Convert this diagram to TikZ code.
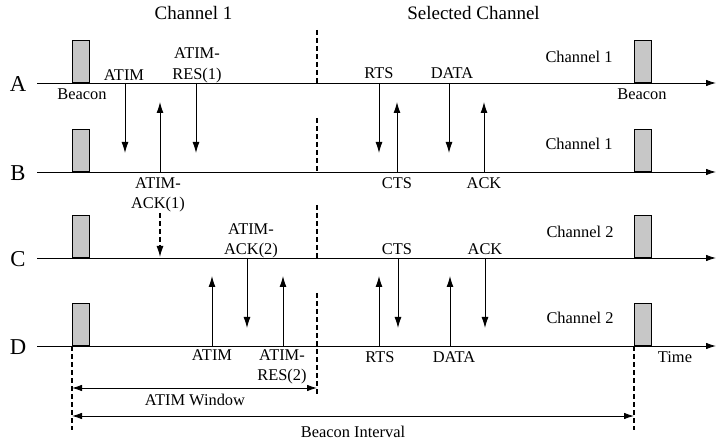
\documentclass[tikz,border=0pt]{standalone}
\usepackage{fontspec}
\setmainfont{Liberation Serif}
\usetikzlibrary{arrows.meta}
\begin{document}
\begin{tikzpicture}[x=1bp,y=-1bp,
  axis/.style={line width=0.9bp,-{Latex[length=10bp,width=6.5bp]}},
  msg/.style={line width=0.9bp,-{Latex[length=11bp,width=7bp]}},
  dmsg/.style={line width=1.2bp,dash pattern=on 5bp off 3bp,-{Latex[length=11bp,width=7bp]}},
  vdash/.style={line width=1.3bp,dash pattern=on 5bp off 3bp},
  dim/.style={line width=0.9bp,{Latex[length=10bp,width=6.5bp]}-{Latex[length=10bp,width=6.5bp]}},
  beacon/.style={draw,line width=0.9bp,fill=black!22,minimum width=17bp,minimum height=42bp,inner sep=0pt,anchor=south west},
  lbl/.style={font=\fontsize{16.4bp}{20bp}\selectfont,inner sep=0pt,anchor=base},
  ttl/.style={font=\fontsize{19bp}{23bp}\selectfont,inner sep=0pt,anchor=base},
  big/.style={font=\fontsize{22.7bp}{26bp}\selectfont,inner sep=0pt}
]
\useasboundingbox (0,0) rectangle (716,443);

% titles
\node[ttl] (t1) at (193.5,20) {Channel 1};
\node[ttl] (t2) at (473.5,20) {Selected Channel};

% time axes, station letters and beacons
\foreach \n/\yy in {A/83,B/172,C/258,D/346} {
  \node[big] (L\n) at (18,\yy+1.5) {\n};
  \coordinate (\n s) at (37,\yy);
  \coordinate (\n e) at (716,\yy);
  \draw[axis] (\n s) -- (\n e);
  \node[beacon] (\n b1) at (72,\yy) {};
  \node[beacon] (\n b2) at (634,\yy) {};
}

% ATIM window boundary (dashed)
\coordinate (w1t) at (317,30);  \coordinate (w1b) at (317,83);
\coordinate (w2t) at (317,118); \coordinate (w2b) at (317,172);
\coordinate (w3t) at (317,205); \coordinate (w3b) at (317,258);
\coordinate (w4t) at (317,293); \coordinate (w4b) at (317,397);
\draw[vdash] (w1t) -- (w1b);
\draw[vdash] (w2t) -- (w2b);
\draw[vdash] (w3t) -- (w3b);
\draw[vdash] (w4t) -- (w4b);
\coordinate (lb) at (72,430);
\coordinate (rb) at (634,430);
\draw[vdash] (Db1.south west) -- (lb);
\draw[vdash] (Db2.south west) -- (rb);

% dimension arrows
\coordinate (aw1) at (72,388);  \coordinate (aw2) at (317,388);
\coordinate (bi1) at (72,416);  \coordinate (bi2) at (634,416);
\draw[dim] (aw1) -- (aw2);
\draw[dim] (bi1) -- (bi2);
\node[lbl] (tw) at (195,405.4) {ATIM Window};
\node[lbl] (tbi) at (353,437) {Beacon Interval};

% ATIM window messages A/B
\coordinate (m1s) at (125,83);  \coordinate (m1e) at (125,153);
\coordinate (m2s) at (160,172); \coordinate (m2e) at (160,102);
\coordinate (m3s) at (196,83);  \coordinate (m3e) at (196,153);
\coordinate (m4s) at (160,213); \coordinate (m4e) at (160,257);
\draw[msg] (m1s) -- (m1e);
\draw[msg] (m2s) -- (m2e);
\draw[msg] (m3s) -- (m3e);
\draw[dmsg] (m4s) -- (m4e);

% ATIM window messages C/D
\coordinate (m5s) at (212,346); \coordinate (m5e) at (212,276);
\coordinate (m6s) at (247,258); \coordinate (m6e) at (247,328);
\coordinate (m7s) at (283,346); \coordinate (m7e) at (283,276);
\draw[msg] (m5s) -- (m5e);
\draw[msg] (m6s) -- (m6e);
\draw[msg] (m7s) -- (m7e);

% data exchange A/B
\coordinate (n1s) at (379,83);  \coordinate (n1e) at (379,153);
\coordinate (n2s) at (397,172); \coordinate (n2e) at (397,102);
\coordinate (n3s) at (449,83);  \coordinate (n3e) at (449,153);
\coordinate (n4s) at (484,172); \coordinate (n4e) at (484,102);
\draw[msg] (n1s) -- (n1e);
\draw[msg] (n2s) -- (n2e);
\draw[msg] (n3s) -- (n3e);
\draw[msg] (n4s) -- (n4e);

% data exchange C/D
\coordinate (n5s) at (379,346); \coordinate (n5e) at (379,276);
\coordinate (n6s) at (398,258); \coordinate (n6e) at (398,328);
\coordinate (n7s) at (450,346); \coordinate (n7e) at (450,276);
\coordinate (n8s) at (485,258); \coordinate (n8e) at (485,328);
\draw[msg] (n5s) -- (n5e);
\draw[msg] (n6s) -- (n6e);
\draw[msg] (n7s) -- (n7e);
\draw[msg] (n8s) -- (n8e);

% labels, left part
\node[lbl] (x1) at (124,80.5) {ATIM};
\node[lbl] (x2a) at (197,58.5) {ATIM-};
\node[lbl] (x2b) at (197,79.3) {RES(1)};
\node[lbl] (x3) at (82,99.7) {Beacon};
\node[lbl] (x4a) at (158,188.7) {ATIM-};
\node[lbl] (x4b) at (158,208.3) {ACK(1)};
\node[lbl] (x5a) at (251,234.7) {ATIM-};
\node[lbl] (x5b) at (251,254.4) {ACK(2)};
\node[lbl] (x6) at (212,360.6) {ATIM};
\node[lbl] (x7a) at (282,360.6) {ATIM-};
\node[lbl] (x7b) at (282,380.3) {RES(2)};

% labels, right part
\node[lbl] (y1) at (379,78.7) {RTS};
\node[lbl] (y2) at (452,78.7) {DATA};
\node[lbl] (y3) at (397,188.7) {CTS};
\node[lbl] (y4) at (484,188.4) {ACK};
\node[lbl] (y5) at (397,254.7) {CTS};
\node[lbl] (y6) at (485,254.7) {ACK};
\node[lbl] (y7) at (380,362.7) {RTS};
\node[lbl] (y8) at (454,362.7) {DATA};
\node[lbl] (y9) at (675,362.7) {Time};
\node[lbl] (z1) at (579,62.4) {Channel 1};
\node[lbl] (z2) at (579,149.4) {Channel 1};
\node[lbl] (z3) at (580,237.4) {Channel 2};
\node[lbl] (z4) at (580,323.6) {Channel 2};
\node[lbl] (z5) at (642,99.7) {Beacon};
\end{tikzpicture}
\end{document}
